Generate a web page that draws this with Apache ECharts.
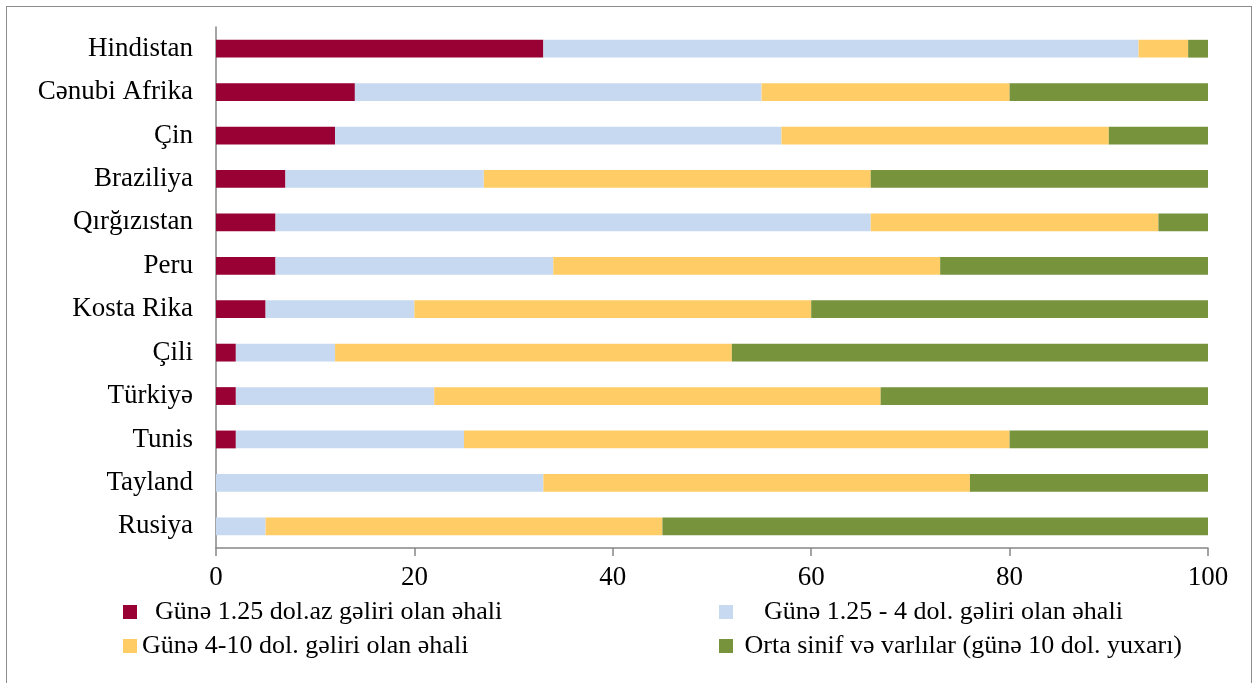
<!DOCTYPE html>
<html>
<head>
<meta charset="utf-8">
<script src="https://cdn.jsdelivr.net/npm/echarts@6/dist/echarts.min.js"></script>
<style>
  html, body { margin: 0; padding: 0; background: #fff; }
  #chart { width: 1257px; height: 683px; }
  #frame { position: absolute; left: 6px; top: 6px; width: 1244px; height: 690px; border: 1px solid #8c8c8c; pointer-events: none; }
</style>
</head>
<body>
<div id="chart"></div>
<div id="frame"></div>
<script>
var countries = ['Hindistan', 'Cənubi Afrika', 'Çin', 'Braziliya', 'Qırğızıstan', 'Peru',
                 'Kosta Rika', 'Çili', 'Türkiyə', 'Tunis', 'Tayland', 'Rusiya'];
var below125 = [33, 14, 12, 7, 6, 6, 5, 2, 2, 2, 0, 0];
var from125to4 = [60, 41, 45, 20, 60, 28, 15, 10, 20, 23, 33, 5];
var from4to10 = [5, 25, 33, 39, 29, 39, 40, 40, 45, 55, 43, 40];
var middleClass = [2, 20, 10, 34, 5, 27, 40, 48, 33, 20, 24, 55];
var xTicks = [0, 20, 40, 60, 80, 100];

var names = [
    '  Günə 1.25 dol.az gəliri olan əhali',
    '    Günə 1.25 - 4 dol. gəliri olan əhali',
    'Günə 4-10 dol. gəliri olan əhali',
    ' Orta sinif və varlılar (günə 10 dol. yuxarı)'
];
var colors = ['#990033', '#C6D9F1', '#FFCC66', '#77933C'];
var font = '"Liberation Serif", "Times New Roman", serif';

function bar(i, data) {
    return {
        name: names[i],
        type: 'bar',
        stack: 'all',
        barWidth: '41%',
        itemStyle: { color: colors[i] },
        data: data
    };
}

var legendText = { fontFamily: font, fontSize: 26, color: '#000' };

var myChart = echarts.init(document.getElementById('chart'));
myChart.setOption({
    animation: false,
    textStyle: { fontFamily: font },
    grid: { left: 216, right: 49, top: 27, bottom: 135 },
    legend: [
        {
            orient: 'vertical', left: 118, top: 594, itemGap: 8,
            icon: 'rect', itemWidth: 14, itemHeight: 14,
            textStyle: legendText,
            data: [names[0], names[2]]
        },
        {
            orient: 'vertical', left: 714, top: 594, itemGap: 8,
            icon: 'rect', itemWidth: 14, itemHeight: 14,
            textStyle: legendText,
            data: [names[1], names[3]]
        }
    ],
    xAxis: {
        type: 'value',
        min: xTicks[0],
        max: xTicks[xTicks.length - 1],
        interval: 20,
        splitLine: { show: false },
        axisLine: { show: true, lineStyle: { color: '#868686', width: 1.5 } },
        axisTick: { show: true, length: 8, lineStyle: { color: '#868686', width: 1.5 } },
        axisLabel: { fontFamily: font, fontSize: 27, color: '#000', margin: 16 }
    },
    yAxis: {
        type: 'category',
        inverse: true,
        data: countries,
        axisLine: { lineStyle: { color: '#868686', width: 1.5 } },
        axisTick: { length: 8, lineStyle: { color: '#868686', width: 1.5 } },
        axisLabel: { fontFamily: font, fontSize: 27, color: '#000', margin: 23 }
    },
    series: [
        bar(0, below125),
        bar(1, from125to4),
        bar(2, from4to10),
        bar(3, middleClass)
    ]
});
</script>
</body>
</html>
